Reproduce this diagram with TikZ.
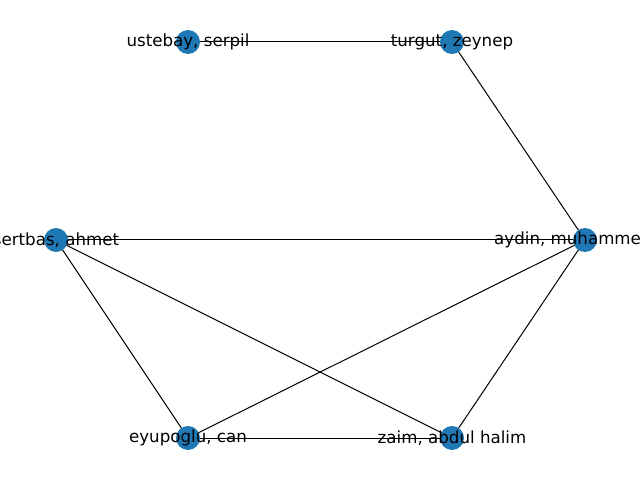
\documentclass[tikz,border=0pt]{standalone}
\usepackage{fontspec}
\setmainfont{DejaVu Sans}
\definecolor{nodeblue}{HTML}{1F77B4}
\begin{document}
\begin{tikzpicture}[x=1pt,y=1pt,
  vertex/.style={circle,fill=nodeblue,draw=none,minimum size=24pt,inner sep=0pt},
  lbl/.style={font=\fontsize{16.67}{20}\selectfont,inner sep=0pt,text=black},
  edge/.style={draw=black,line width=1pt}]
\useasboundingbox (0,0) rectangle (640,480);
\clip (0,0) rectangle (640,480);
\coordinate (us) at (188,438);
\coordinate (tu) at (452,438);
\coordinate (se) at (56,240);
\coordinate (ay) at (585,240);
\coordinate (ey) at (188,42);
\coordinate (za) at (452,42);
\draw[edge] (us) -- (tu);
\draw[edge] (tu) -- (ay);
\draw[edge] (se) -- (ay);
\draw[edge] (se) -- (ey);
\draw[edge] (se) -- (za);
\draw[edge] (ay) -- (ey);
\draw[edge] (ay) -- (za);
\draw[edge] (ey) -- (za);
\node[vertex] (nus) at (us) {};
\node[vertex] (ntu) at (tu) {};
\node[vertex] (nse) at (se) {};
\node[vertex] (nay) at (ay) {};
\node[vertex] (ney) at (ey) {};
\node[vertex] (nza) at (za) {};
\node[lbl] (lus) at (us) {ustebay, serpil};
\node[lbl] (ltu) at (tu) {turgut, zeynep};
\node[lbl] (lse) at (se) {sertbas, ahmet};
\node[lbl,anchor=west] (lay) at ([xshift=-91pt]ay) {aydin, muhammed};
\node[lbl] (ley) at (ey) {eyupoglu, can};
\node[lbl] (lza) at (za) {zaim, abdul halim};
\end{tikzpicture}
\end{document}
